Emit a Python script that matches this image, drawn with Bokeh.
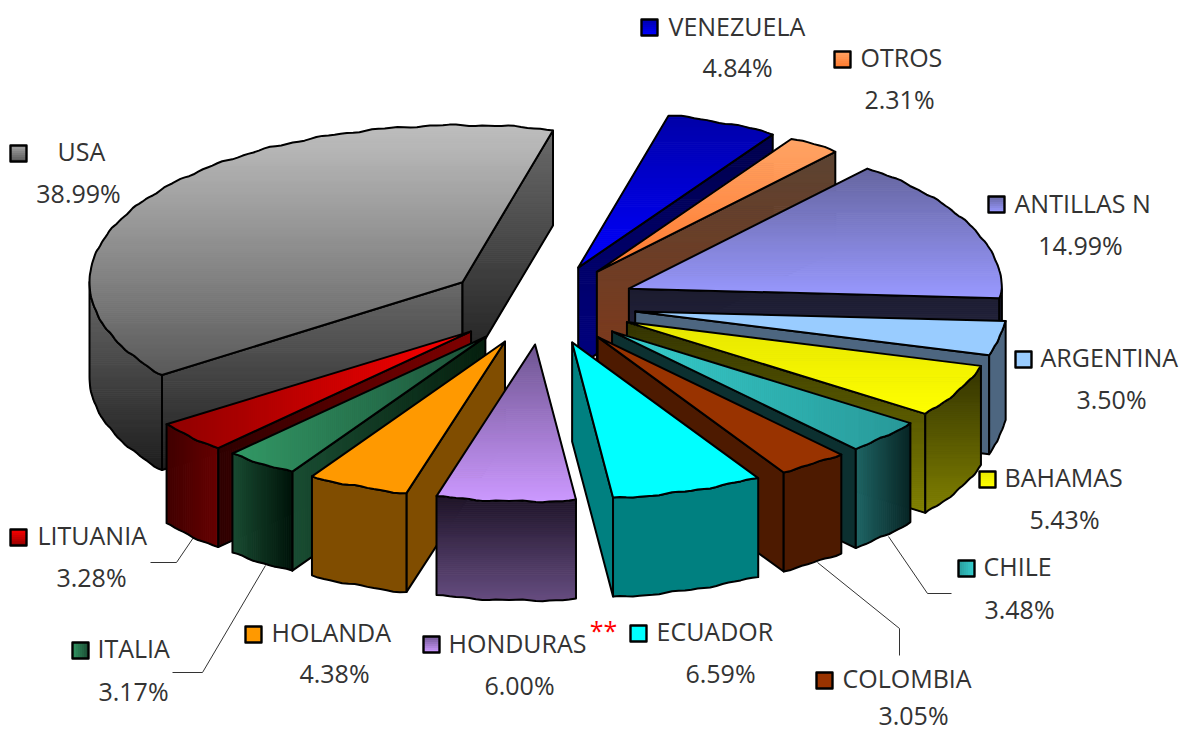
import math
from bokeh.plotting import figure
from bokeh.models import ColumnDataSource, Range1d
from bokeh.core.properties import value
from bokeh.embed import file_html
from bokeh.resources import INLINE

# ---- data (clockwise from the top of the pie)
categories = ["VENEZUELA", "OTROS", "ANTILLAS N", "ARGENTINA", "BAHAMAS", "CHILE", "COLOMBIA",
              "ECUADOR", "HONDURAS", "HOLANDA", "ITALIA", "LITUANIA", "USA"]
shares = [4.84, 2.31, 14.99, 3.50, 5.43, 3.48, 3.05, 6.59, 6.00, 4.38, 3.17, 3.28, 38.99]
share_labels = ["4.84%", "2.31%", "14.99%", "3.50%", "5.43%", "3.48%", "3.05%",
                "6.59%", "6.00%", "4.38%", "3.17%", "3.28%", "38.99%"]

# ---- styles: (axis, first colour, last colour); "v" runs top to bottom, "h" left to right
top_fill = {
    "VENEZUELA": ("v", "#0000A8", "#0000FF"), "OTROS": ("v", "#FFA466", "#FF7A2E"),
    "ANTILLAS N": ("v", "#65659F", "#9999FF"), "ARGENTINA": ("v", "#99CCFF", "#99CCFF"),
    "BAHAMAS": ("v", "#E6E600", "#FFFF00"), "CHILE": ("h", "#36CFCF", "#299999"),
    "COLOMBIA": ("v", "#993300", "#993300"), "ECUADOR": ("v", "#00FFFF", "#00FFFF"),
    "HONDURAS": ("v", "#6E5590", "#CC99FF"), "HOLANDA": ("v", "#FF9900", "#FF9900"),
    "ITALIA": ("h", "#339966", "#1C5239"), "LITUANIA": ("h", "#8F0000", "#FF0000"),
    "USA": ("v", "#C0C0C0", "#5A5A5A"),
}
wall_fill = {
    "VENEZUELA": ("v", "#00004D", "#000080"), "OTROS": ("v", "#5C4433", "#80391A"),
    "ANTILLAS N": ("v", "#1C1C30", "#2B2B4D"), "ARGENTINA": ("v", "#4D6680", "#4D6680"),
    "BAHAMAS": ("v", "#333300", "#808000"), "CHILE": ("h", "#0C3030", "#0C3030"),
    "COLOMBIA": ("v", "#4D1A00", "#4D1A00"), "ECUADOR": ("v", "#008080", "#008080"),
    "HONDURAS": ("v", "#1E1428", "#664D80"), "HOLANDA": ("v", "#804D00", "#804D00"),
    "ITALIA": ("h", "#1A4D33", "#06200F"), "LITUANIA": ("h", "#2E0000", "#800000"),
    "USA": ("v", "#6A6A6A", "#1E1E1E"),
}
outer_fill = dict(wall_fill)
outer_fill["CHILE"] = ("h", "#1F6666", "#082525")
outer_fill["ITALIA"] = ("h", "#1A4D33", "#00140A")
outer_fill["LITUANIA"] = ("h", "#400000", "#660000")
key_fill = dict(top_fill)
key_fill["CHILE"] = ("h", "#299999", "#36CFCF")
key_fill["USA"] = ("v", "#A8A8A8", "#5A5A5A")
key_fill["LITUANIA"] = ("v", "#FF0000", "#990000")
key_fill["ITALIA"] = ("h", "#339966", "#1A4D33")

# ---- page layout, in page pixels
CX, CY = 541.0, 304.0
RX, RY = 373.0, 157.0
DEPTH, DEPTH_USA = 99.0, 95.0
FRONT_SHIFT = 4.0
EXPLODE = 0.255
START = 14.0
TEXT_LIFT = 2
draw_order = ["USA", "VENEZUELA", "OTROS", "ANTILLAS N", "ARGENTINA", "BAHAMAS", "CHILE", "COLOMBIA",
              "LITUANIA", "ITALIA", "HOLANDA", "ECUADOR", "HONDURAS"]
label_layout = {  # key x, name left x, name y, key y, share x, share y
    "VENEZUELA": (649, 668, 27, 27, 737, 68), "OTROS": (842, 860, 58, 59, 899, 100),
    "ANTILLAS N": (996, 1014, 204, 204, 1080, 246), "ARGENTINA": (1023, 1040, 358, 359, 1111, 400),
    "BAHAMAS": (987, 1004, 478, 479, 1064, 520), "CHILE": (966, 983, 567, 568, 1019, 610),
    "COLOMBIA": (824, 842, 679, 680, 913, 716), "ECUADOR": (638, 656, 632, 633, 720, 674),
    "HONDURAS": (431, 448, 644, 644, 519, 686), "HOLANDA": (253, 271, 633, 634, 334, 674),
    "ITALIA": (80, 97, 649, 650, 133, 692), "LITUANIA": (18, 37, 536, 537, 91, 578),
    "USA": (18, 57, 152, 153, 78, 194),
}
leaders = [
    ([150, 176, 193], [562, 562, 537]),
    ([172, 202, 265], [672, 672, 565]),
    ([888, 927, 951], [536, 593, 593]),
    ([817, 899, 899], [562, 628, 655]),
]


def mix(c1, c2, t):
    a = [int(c1[i:i + 2], 16) for i in (1, 3, 5)]
    b = [int(c2[i:i + 2], 16) for i in (1, 3, 5)]
    return "#%02X%02X%02X" % tuple(round(a[i] + (b[i] - a[i]) * t) for i in range(3))


def clip(poly, idx, limit, keep_below):
    out = []
    n = len(poly)
    for i in range(n):
        p, q = poly[i], poly[(i + 1) % n]
        pin = p[idx] <= limit if keep_below else p[idx] >= limit
        qin = q[idx] <= limit if keep_below else q[idx] >= limit
        if pin:
            out.append(p)
        if pin != qin:
            t = (limit - p[idx]) / (q[idx] - p[idx])
            out.append((p[0] + (q[0] - p[0]) * t, p[1] + (q[1] - p[1]) * t))
    return out


xs, ys, fills, lines, widths, falpha, lalpha = [], [], [], [], [], [], []


def add(poly, fill, line, width, fa, la):
    xs.append([p[0] for p in poly])
    ys.append([p[1] for p in poly])
    fills.append(fill)
    lines.append(line)
    widths.append(width)
    falpha.append(fa)
    lalpha.append(la)


def shade(poly, spec, outline=2.0):
    axis, c1, c2 = spec
    idx = 1 if axis == "v" else 0
    lo = min(p[idx] for p in poly)
    hi = max(p[idx] for p in poly)
    if c1 == c2:
        add(poly, c1, c1, 0.5, 1, 0)
    else:
        n = max(1, int((hi - lo) / 2))
        for i in range(n):
            a, b = lo + (hi - lo) * i / n, lo + (hi - lo) * (i + 1) / n
            band = clip(clip(poly, idx, a, False), idx, b, True)
            if len(band) >= 3:
                col = mix(c1, c2, (i + 0.5) / n)
                add(band, col, col, 1.0, 1, 1)
    add(poly, "#000000", "#000000", outline, 0, 1)


def rim(deg, name):
    r = math.radians(deg)
    wob = 0.6 * math.sin(math.radians(deg * 37)) + 0.4 * math.sin(math.radians(deg * 83))
    shift = 0.0
    if name != "USA":
        shift = FRONT_SHIFT * min(1.0, max(0.0, -math.cos(r) / 0.15))
    return (RX * math.sin(r) - shift, -RY * math.cos(r) + wob)


cum = 0.0
spans = {}
for name, s in zip(categories, shares):
    spans[name] = (START + cum * 3.6, START + (cum + s) * 3.6)
    cum += s

for name in draw_order:
    a0, a1 = spans[name]
    depth = DEPTH_USA if name == "USA" else DEPTH
    mid = math.radians((a0 + a1) / 2)
    tx = CX + EXPLODE * RX * math.sin(mid)
    ty = CY - EXPLODE * RY * math.cos(mid)
    steps = max(2, int(a1 - a0))
    arc = [a0 + (a1 - a0) * i / steps for i in range(steps + 1)]
    top = [(tx, ty)] + [(tx + rim(d, name)[0], ty + rim(d, name)[1]) for d in arc]
    if 180 < a0 % 360 < 360:
        e = (tx + rim(a0, name)[0], ty + rim(a0, name)[1])
        shade([(tx, ty), e, (e[0], e[1] + depth), (tx, ty + depth)], wall_fill[name])
    if 0 < a1 % 360 < 180:
        e = (tx + rim(a1, name)[0], ty + rim(a1, name)[1])
        shade([(tx, ty), e, (e[0], e[1] + depth), (tx, ty + depth)], wall_fill[name])
    w0, w1 = max(a0, 90), min(a1, 270)
    if w1 > w0:
        st = max(2, int(w1 - w0))
        wa = [w0 + (w1 - w0) * i / st for i in range(st + 1)]
        upper = [(tx + rim(d, name)[0], ty + rim(d, name)[1]) for d in wa]
        lower = [(x, y + depth) for x, y in upper][::-1]
        shade(upper + lower, outer_fill[name])
    shade(top, top_fill[name])

for name in categories:
    kx, nx, ny, ky, sx, sy = label_layout[name]
    h = 8.0
    shade([(kx - h, ky - h), (kx + h, ky - h), (kx + h, ky + h), (kx - h, ky + h)], key_fill[name], 2.4)

p = figure(width=1185, height=731, output_backend="svg", toolbar_location=None,
           x_range=Range1d(0, 1185), y_range=Range1d(731, 0), min_border=0)
p.axis.visible = False
p.grid.visible = False
p.outline_line_color = None

p.multi_line(xs=[l[0] for l in leaders], ys=[l[1] for l in leaders], line_color="#333333", line_width=1)
p.patches(xs="xs", ys="ys", fill_color="fc", line_color="lc", line_width="lw", fill_alpha="fa", line_alpha="la",
          line_join="round",
          source=ColumnDataSource(dict(xs=xs, ys=ys, fc=fills, lc=lines, lw=widths, fa=falpha, la=lalpha)))

p.text(x=[label_layout[n][1] for n in categories], y=[label_layout[n][2] - TEXT_LIFT for n in categories],
       text=categories, text_font=value("Open Sans"), text_font_size="25px", text_color="#333333",
       text_align="left", text_baseline="middle")
p.text(x=[label_layout[n][4] for n in categories], y=[label_layout[n][5] - TEXT_LIFT for n in categories],
       text=share_labels, text_font=value("Open Sans"), text_font_size="25px", text_color="#333333",
       text_align="center", text_baseline="middle")
p.text(x=[603], y=[631 - TEXT_LIFT], text=["**"], text_font=value("Open Sans"), text_font_size="25px",
       text_color="#FF0000", text_align="center", text_baseline="middle")

open("out.html", "w").write(file_html(p, INLINE))
